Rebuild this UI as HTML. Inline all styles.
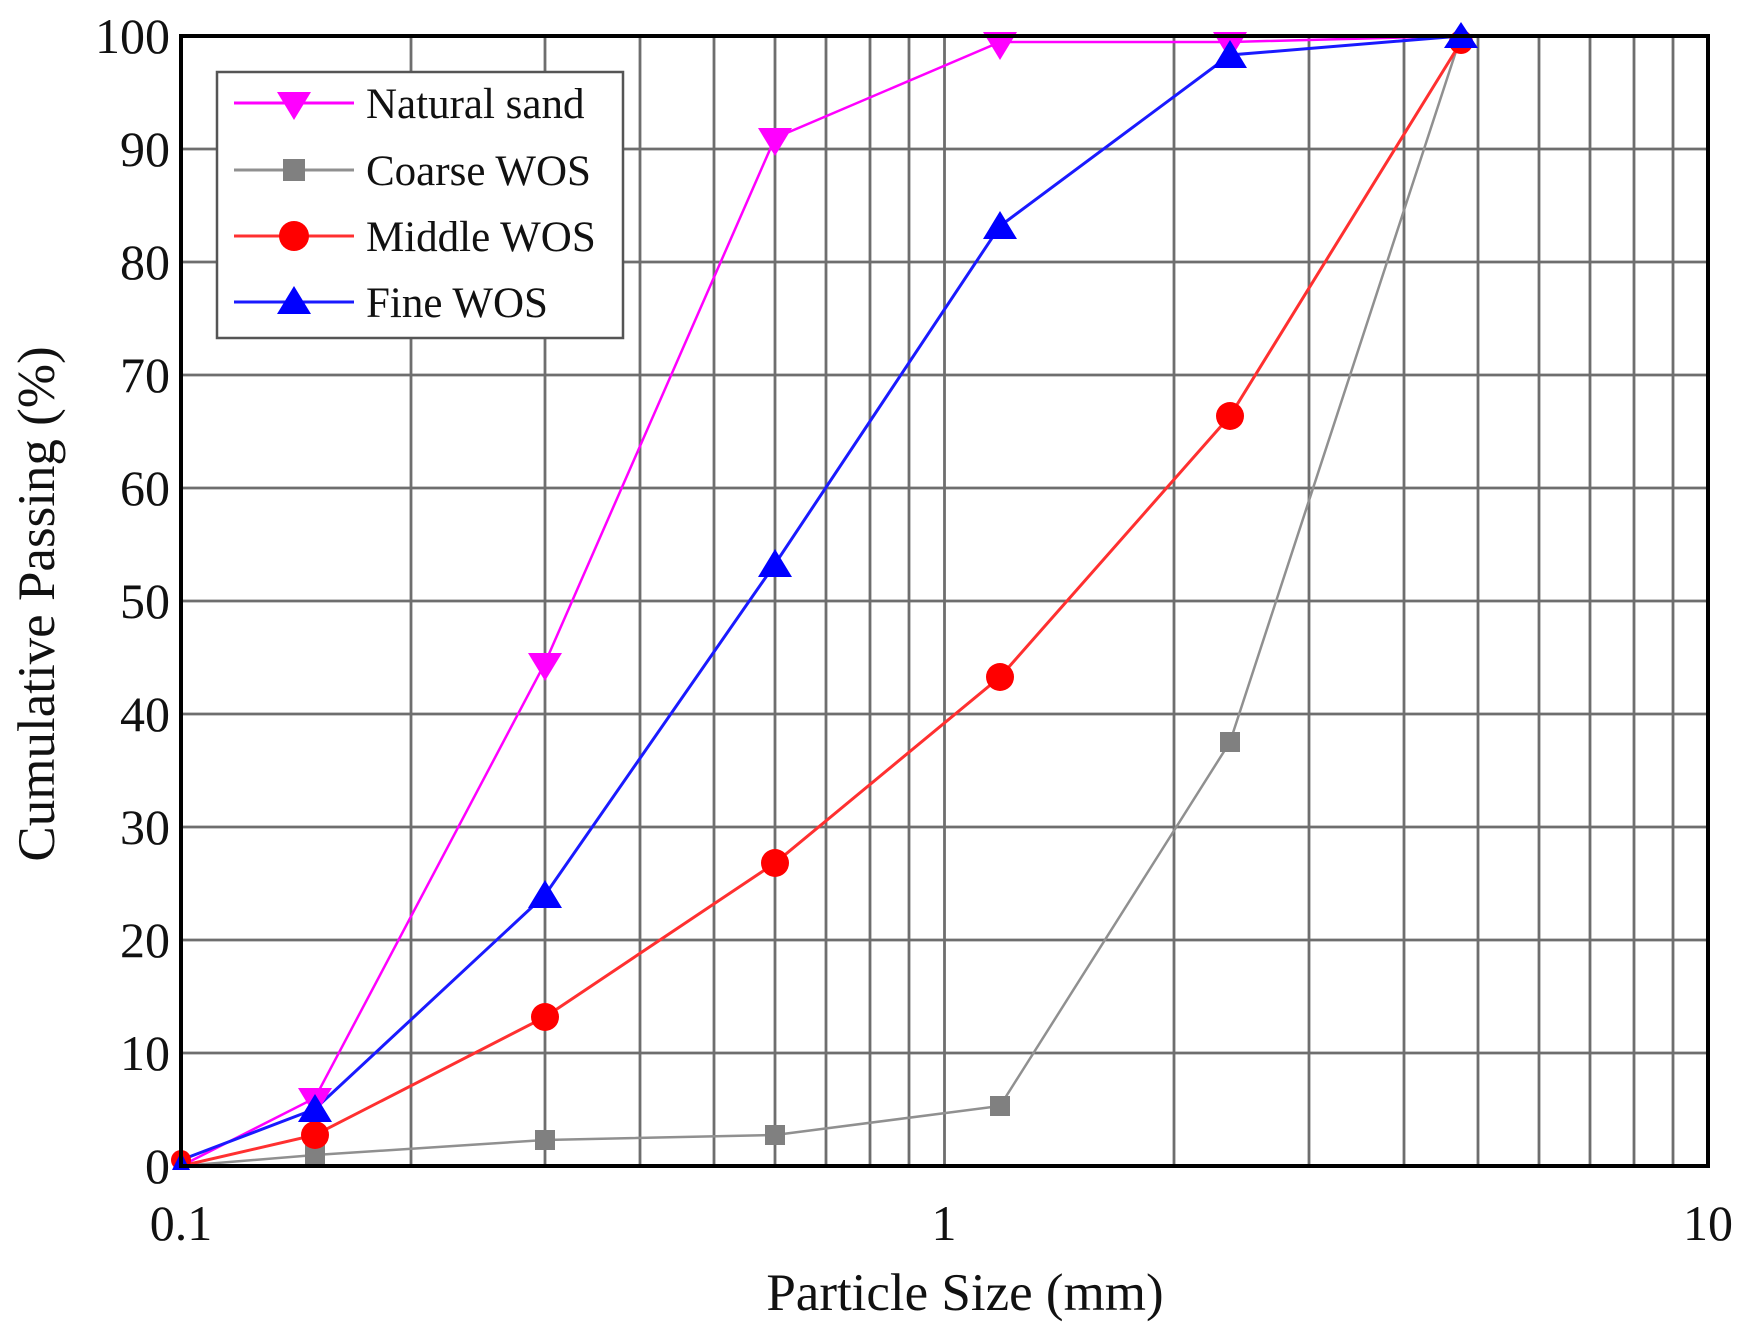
<!DOCTYPE html>
<html><head><style>html,body{margin:0;padding:0;background:#fff}</style></head><body>
<svg width="1754" height="1332" viewBox="0 0 1754 1332" xmlns="http://www.w3.org/2000/svg" font-family="Liberation Serif, serif">
<rect width="1754" height="1332" fill="#fff"/>
<g stroke="#6e6e6e" stroke-width="2.8">
<line x1="411" y1="36" x2="411" y2="1166"/><line x1="545" y1="36" x2="545" y2="1166"/><line x1="640" y1="36" x2="640" y2="1166"/><line x1="714" y1="36" x2="714" y2="1166"/><line x1="775" y1="36" x2="775" y2="1166"/><line x1="826" y1="36" x2="826" y2="1166"/><line x1="870" y1="36" x2="870" y2="1166"/><line x1="909" y1="36" x2="909" y2="1166"/><line x1="944.5" y1="36" x2="944.5" y2="1166"/>
<line x1="1174" y1="36" x2="1174" y2="1166"/><line x1="1309" y1="36" x2="1309" y2="1166"/><line x1="1404" y1="36" x2="1404" y2="1166"/><line x1="1478" y1="36" x2="1478" y2="1166"/><line x1="1539" y1="36" x2="1539" y2="1166"/><line x1="1590" y1="36" x2="1590" y2="1166"/><line x1="1634" y1="36" x2="1634" y2="1166"/><line x1="1673" y1="36" x2="1673" y2="1166"/>
<line x1="181" y1="149" x2="1708" y2="149"/><line x1="181" y1="262" x2="1708" y2="262"/><line x1="181" y1="375" x2="1708" y2="375"/><line x1="181" y1="488" x2="1708" y2="488"/><line x1="181" y1="601" x2="1708" y2="601"/><line x1="181" y1="714" x2="1708" y2="714"/><line x1="181" y1="827" x2="1708" y2="827"/><line x1="181" y1="940" x2="1708" y2="940"/><line x1="181" y1="1053" x2="1708" y2="1053"/>
</g>
<polyline fill="none" stroke="#909090" stroke-width="2.5" points="181,1166 315,1155 545,1140 775,1135 1000,1106 1230,742 1461,36"/>
<polyline fill="none" stroke="#ff3030" stroke-width="3" points="181,1166 315,1135 545,1017 775,863 1000,677 1230,416 1461,42"/>
<polyline fill="none" stroke="#ff00ff" stroke-width="2.5" points="181,1166 315,1098 545,663 775,138 1000,42 1230,42 1461,36"/>
<polyline fill="none" stroke="#1a1aff" stroke-width="3" points="181,1160 315,1109 545,895 775,564 1000,226 1230,55 1461,36"/>
<g fill="#808080"><rect x="305" y="1145" width="20" height="20"/><rect x="535" y="1130" width="20" height="20"/><rect x="765" y="1125" width="20" height="20"/><rect x="990" y="1096" width="20" height="20"/><rect x="1220" y="732" width="20" height="20"/></g>
<g fill="#ff0000"><circle cx="315" cy="1135" r="14"/><circle cx="545" cy="1017" r="14"/><circle cx="775" cy="863" r="14"/><circle cx="1000" cy="677" r="14"/><circle cx="1230" cy="416" r="14"/><circle cx="1461" cy="42" r="12"/><circle cx="181" cy="1160" r="10"/></g>
<g fill="#ff00ff"><path d="M298,1088 h34 l-17,28z"/><path d="M528,653 h34 l-17,28z"/><path d="M758,128 h34 l-17,28z"/><path d="M983,32 h34 l-17,28z"/><path d="M1213,32 h34 l-17,28z"/></g>
<g fill="#0000ff"><path d="M298,1122 h34 l-17,-28z"/><path d="M528,908 h34 l-17,-28z"/><path d="M758,577 h34 l-17,-28z"/><path d="M983,239 h34 l-17,-28z"/><path d="M1213,68 h34 l-17,-28z"/><path d="M1444,48 h34 l-17,-26z"/><path d="M172,1170 h18 l-9,-18z"/></g>
<rect x="181" y="36" width="1527" height="1130" fill="none" stroke="#000" stroke-width="4"/>
<rect x="217" y="72" width="406" height="266" fill="#fff" stroke="#555" stroke-width="2.5"/>
<line x1="234" y1="103" x2="354" y2="103" stroke="#ff00ff" stroke-width="3"/><path d="M277,92 h34 l-17,28z" fill="#ff00ff"/>
<line x1="234" y1="170" x2="354" y2="170" stroke="#909090" stroke-width="3"/><rect x="283" y="159" width="22" height="22" fill="#808080"/>
<line x1="234" y1="236" x2="354" y2="236" stroke="#ff3030" stroke-width="3"/><circle cx="294" cy="236" r="15" fill="#ff0000"/>
<line x1="234" y1="302" x2="354" y2="302" stroke="#1a1aff" stroke-width="3"/><path d="M277,314 h34 l-17,-28z" fill="#0000ff"/>
<g font-size="43" fill="#111">
<text x="366" y="118">Natural sand</text><text x="366" y="185">Coarse WOS</text><text x="366" y="251">Middle WOS</text><text x="366" y="317">Fine WOS</text>
</g>
<g font-size="50" fill="#111" text-anchor="end">
<text x="170" y="53">100</text><text x="170" y="166">90</text><text x="170" y="279">80</text><text x="170" y="392">70</text><text x="170" y="505">60</text><text x="170" y="618">50</text><text x="170" y="731">40</text><text x="170" y="844">30</text><text x="170" y="957">20</text><text x="170" y="1070">10</text><text x="170" y="1183">0</text>
</g>
<g font-size="50" fill="#111" text-anchor="middle">
<text x="181" y="1240">0.1</text><text x="944" y="1240">1</text><text x="1708" y="1240">10</text>
<text x="965" y="1310" font-size="53">Particle Size (mm)</text>
<text transform="translate(54,604) rotate(-90)" font-size="53">Cumulative Passing (%)</text>
</g>
</svg>
</body></html>
